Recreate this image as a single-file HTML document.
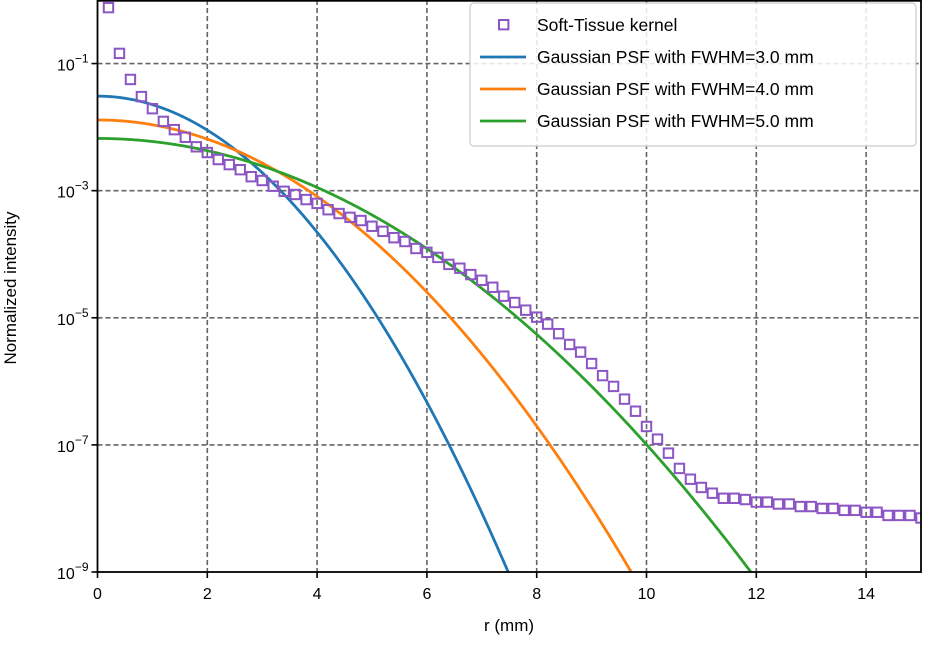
<!DOCTYPE html>
<html><head><meta charset="utf-8"><style>
body{margin:0;background:#fff;font-family:"Liberation Sans","DejaVu Sans",sans-serif}
svg text{font-family:"Liberation Sans","DejaVu Sans",sans-serif;fill:#000}
</style></head><body>
<svg id="chart" width="925" height="640" viewBox="0 0 925 640" xmlns="http://www.w3.org/2000/svg">
<defs><clipPath id="plotclip"><rect x="97" y="0" width="824" height="572"/></clipPath></defs>
<g id="grid"></g>
<g id="series" clip-path="url(#plotclip)"></g>
<g id="axes"></g>
<text x="509" y="631" font-size="17" text-anchor="middle">r (mm)</text>
<text transform="translate(16,288) rotate(-90)" font-size="17" text-anchor="middle">Normalized intensity</text>
<g id="legend"></g>
</svg>
<script>
const xTicks = [0,2,4,6,8,10,12,14];
const yTickExps = [-1,-3,-5,-7,-9];
const fwhmValues = [3.0,4.0,5.0];
const seriesColors = ['#1f77b4','#ff7f0e','#2ca02c'];
const kernelR = [0.2,0.4,0.6,0.8,1.0,1.2,1.4,1.6,1.8,2.0,2.2,2.4,2.6,2.8,3.0,3.2,3.4,3.6,3.8,4.0,4.2,4.4,4.6,4.8,5.0,5.2,5.4,5.6,5.8,6.0,6.2,6.4,6.6,6.8,7.0,7.2,7.4,7.6,7.8,8.0,8.2,8.4,8.6,8.8,9.0,9.2,9.4,9.6,9.8,10.0,10.2,10.4,10.6,10.8,11.0,11.2,11.4,11.6,11.8,12.0,12.2,12.4,12.6,12.8,13.0,13.2,13.4,13.6,13.8,14.0,14.2,14.4,14.6,14.8,15.0];
const kernelLog10 = [-0.12,-0.84,-1.25,-1.52,-1.71,-1.91,-2.04,-2.16,-2.31,-2.40,-2.51,-2.59,-2.67,-2.78,-2.84,-2.93,-3.01,-3.06,-3.14,-3.20,-3.30,-3.36,-3.42,-3.47,-3.56,-3.64,-3.74,-3.80,-3.91,-3.97,-4.05,-4.16,-4.22,-4.32,-4.41,-4.52,-4.66,-4.76,-4.88,-4.99,-5.10,-5.25,-5.42,-5.54,-5.72,-5.91,-6.08,-6.28,-6.47,-6.71,-6.91,-7.13,-7.37,-7.54,-7.67,-7.76,-7.84,-7.84,-7.86,-7.90,-7.90,-7.93,-7.93,-7.97,-7.97,-8.00,-8.00,-8.03,-8.03,-8.06,-8.06,-8.11,-8.11,-8.11,-8.15];

const NS='http://www.w3.org/2000/svg';
const X0=97.5,X1=921,R0=0,R1=15,YTOP=0,YBOT=572,L0=0,L1=-9;
function xs(r){return X0+(r-R0)/(R1-R0)*(X1-X0);}
function ys(l){return YTOP+(l-L0)/(L1-L0)*(YBOT-YTOP);}
function mk(tag,attrs,parent){const e=document.createElementNS(NS,tag);for(const k in attrs)e.setAttribute(k,attrs[k]);parent.appendChild(e);return e;}
const grid=document.getElementById('grid'),axes=document.getElementById('axes'),series=document.getElementById('series'),legend=document.getElementById('legend');

xTicks.forEach(t=>{
  const x=xs(t);
  if(t>0){const g=mk('line',{x1:x,x2:x,y1:YTOP,y2:YBOT,stroke:'#666','stroke-width':1.6,'stroke-dasharray':'5,3'},grid);
  
  }
  const tk=mk('line',{x1:x,x2:x,y1:YBOT,y2:YBOT+6,stroke:'#000','stroke-width':1.6},axes);
  
  
  const tl=mk('text',{x:x,y:YBOT+27,'font-size':16,'text-anchor':'middle'},axes);
  tl.textContent=t;
  
  
});
yTickExps.forEach(e=>{
  const y=ys(e);
  if(e>-9){const g=mk('line',{x1:X0,x2:X1,y1:y,y2:y,stroke:'#666','stroke-width':1.6,'stroke-dasharray':'5,3'},grid);
  
  }
  const tk=mk('line',{x1:X0-6,x2:X0,y1:y,y2:y,stroke:'#000','stroke-width':1.6},axes);
  
  
  const tl=mk('text',{x:X0-9,y:y+7,'font-size':16,'text-anchor':'end'},axes);
  tl.innerHTML='10<tspan dy="-8" font-size="12">'+(e<0?'\u2212':'')+Math.abs(e)+'</tspan>';
  
  
});
const frame=mk('rect',{x:X0,y:0.8,width:X1-X0,height:YBOT-0.8,fill:'none',stroke:'#000','stroke-width':1.8},axes);



fwhmValues.forEach((f,i)=>{
  const s=f/(2*Math.sqrt(2*Math.log(2)));
  const a=1/(Math.pow(2*Math.PI,1.5)*s*s*s);
  let d='';
  for(let k=0;k<=600;k++){const r=R1*k/600;const v=a*Math.exp(-r*r/(2*s*s));const l=Math.max(Math.log10(v),-10);d+=(k?'L':'M')+xs(r).toFixed(2)+','+ys(l).toFixed(2);}
  const p=mk('path',{d:d,fill:'none',stroke:seriesColors[i],'stroke-width':2.8},series);
  
  
});
kernelR.forEach((r,i)=>{
  const m=mk('rect',{x:xs(r)-4.7,y:ys(kernelLog10[i])-4.7,width:9.4,height:9.4,fill:'none',stroke:'#8c55c4','stroke-width':2},series);
  
  
});

const lb=mk('rect',{x:470,y:3,width:446,height:143,rx:4,fill:'#fff','fill-opacity':0.85,stroke:'#ccc','stroke-width':1.2},legend);


const labels=['Soft-Tissue kernel'].concat(fwhmValues.map(f=>'Gaussian PSF with FWHM='+f.toFixed(1)+' mm'));
labels.forEach((t,i)=>{
  const y=25+i*32;
  if(i===0){const m=mk('rect',{x:499,y:y-5,width:9.4,height:9.4,fill:'none',stroke:'#8c55c4','stroke-width':2},legend);
    
    }
  else{const l=mk('line',{x1:480,x2:526,y1:y,y2:y,stroke:seriesColors[i-1],'stroke-width':2.8},legend);
    
    }
  const tx=mk('text',{x:537,y:y+6,'font-size':17.5},legend);
  tx.textContent=t;
  
  
});
</script>
</body></html>
